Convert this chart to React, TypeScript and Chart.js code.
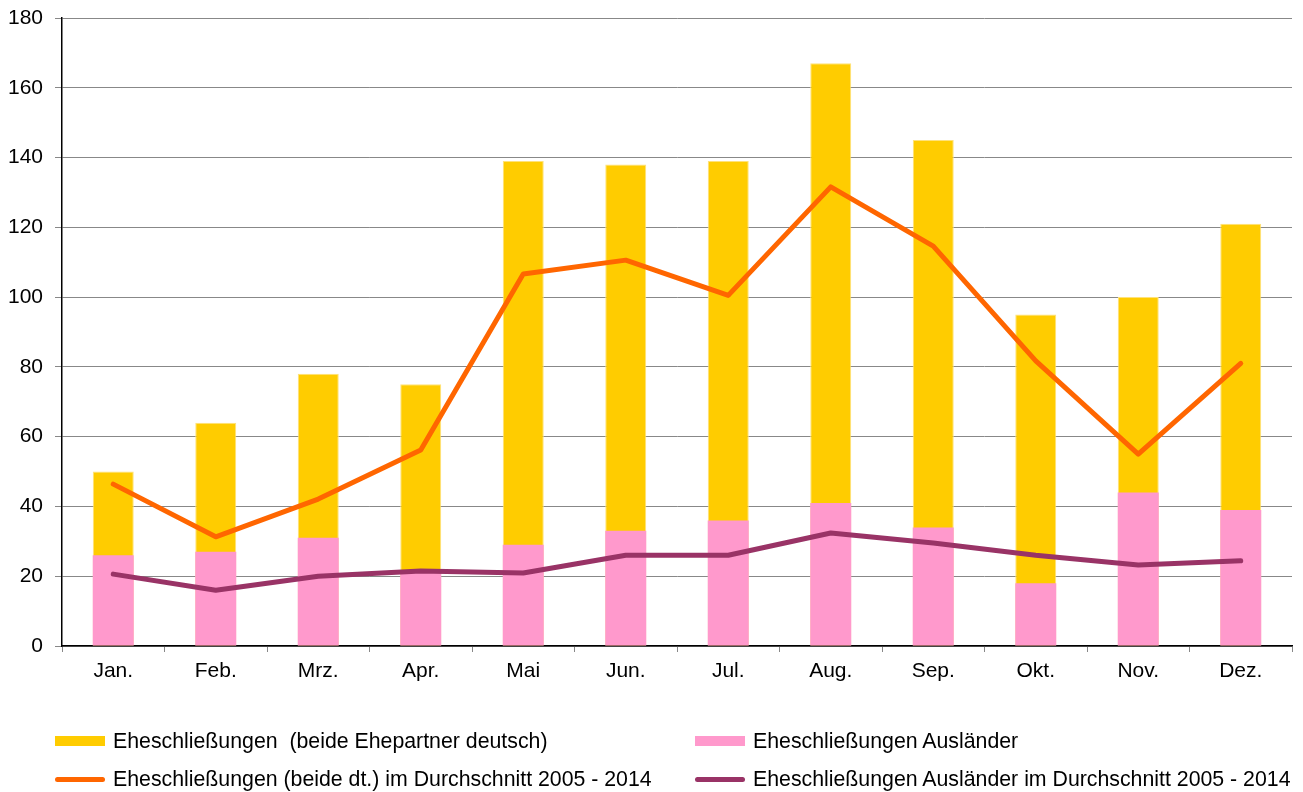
import React, { useEffect, useRef } from "react";
import { Chart, registerables } from "chart.js";

Chart.register(...registerables);

const months = ["Jan.", "Feb.", "Mrz.", "Apr.", "Mai", "Jun.", "Jul.", "Aug.", "Sep.", "Okt.", "Nov.", "Dez."];
const deutsch = [50, 64, 78, 75, 139, 138, 139, 167, 145, 95, 100, 121];
const auslaender = [26, 27, 31, 21, 29, 33, 36, 41, 34, 18, 44, 39];
const avgDeutsch = [46.4, 31.3, 42.1, 56.2, 106.6, 110.6, 100.5, 131.6, 114.6, 81.7, 55, 81];
const avgAuslaender = [20.6, 16, 20, 21.5, 20.9, 26, 26, 32.4, 29.5, 26, 23.2, 24.4];
const yMin = 0;
const yMax = 180;
const yStep = 20;

const labelDeutsch = "Eheschließungen  (beide Ehepartner deutsch)";
const labelAusl = "Eheschließungen Ausländer";
const labelAvgDeutsch = "Eheschließungen (beide dt.) im Durchschnitt 2005 - 2014";
const labelAvgAusl = "Eheschließungen Ausländer im Durchschnitt 2005 - 2014";

const FONT = "'Liberation Sans', Arial, sans-serif";

function LegendItem(props: { left: number; top: number; color: string; kind: "bar" | "line"; text: string }) {
  const { left, top, color, kind, text } = props;
  return (
    <div
      style={{
        position: "absolute",
        left,
        top: top - 12,
        height: 24,
        display: "flex",
        alignItems: "center",
        fontFamily: FONT,
        fontSize: 21.3,
        color: "#000",
        whiteSpace: "pre",
      }}
    >
      <div
        style={{
          width: 50,
          height: kind === "bar" ? 10 : 5,
          borderRadius: kind === "bar" ? 0 : 3,
          background: color,
          marginRight: 8,
        }}
      />
      <span>{text}</span>
    </div>
  );
}

export default function App() {
  const ref = useRef<HTMLCanvasElement>(null);

  useEffect(() => {
    const chart = new Chart(ref.current!, {
      type: "bar",
      data: {
        labels: months,
        datasets: [
          {
            type: "bar",
            label: labelDeutsch,
            data: deutsch,
            backgroundColor: "#FFCC00",
            borderColor: "#FFE27A",
            borderWidth: 1,
            barPercentage: 0.4,
            categoryPercentage: 1,
            order: 3,
          },
          {
            type: "bar",
            label: labelAusl,
            data: auslaender,
            backgroundColor: "#FF99CC",
            borderWidth: 0,
            barPercentage: 0.4,
            categoryPercentage: 1,
            order: 2,
          },
          {
            type: "line",
            label: labelAvgDeutsch,
            data: avgDeutsch,
            borderColor: "#FF6600",
            backgroundColor: "#FF6600",
            borderWidth: 5,
            pointRadius: 0,
            tension: 0,
            borderCapStyle: "round",
            borderJoinStyle: "round",
            order: 1,
          },
          {
            type: "line",
            label: labelAvgAusl,
            data: avgAuslaender,
            borderColor: "#993366",
            backgroundColor: "#993366",
            borderWidth: 5,
            pointRadius: 0,
            tension: 0,
            borderCapStyle: "round",
            borderJoinStyle: "round",
            order: 0,
          },
        ] as any,
      },
      options: {
        responsive: false,
        animation: false,
        layout: { padding: { left: 0, right: 11, top: 18, bottom: 102 } },
        plugins: {
          legend: { display: false },
          tooltip: { enabled: false },
        },
        scales: {
          x: {
            stacked: true,
            offset: true,
            border: { display: true, color: "#000", width: 1.5 },
            grid: {
              display: true,
              offset: true,
              drawOnChartArea: false,
              drawTicks: true,
              tickLength: 6,
              color: "#888",
            },
            ticks: {
              color: "#000",
              font: { family: FONT, size: 21 },
              padding: 7,
              maxRotation: 0,
            },
            afterFit: (scale: any) => {
              scale.height = 44;
              scale.paddingLeft = 0;
              scale.paddingRight = 0;
            },
          },
          y: {
            stacked: false,
            min: yMin,
            max: yMax,
            border: { display: true, color: "#000", width: 1.5 },
            grid: {
              color: "#888",
              lineWidth: 1,
              tickLength: 7,
            },
            ticks: {
              stepSize: yStep,
              color: "#000",
              font: { family: FONT, size: 21 },
              padding: 12,
            },
            afterFit: (scale: any) => {
              scale.width = 62;
              scale.paddingTop = 0;
              scale.paddingBottom = 0;
            },
          },
        },
      },
    });
    return () => chart.destroy();
  }, []);

  return (
    <div style={{ position: "fixed", left: 0, top: 0, width: 1303, height: 792, background: "#fff" }}>
      <canvas ref={ref} width={1303} height={792} style={{ position: "absolute", left: 0, top: 0 }} />
      <LegendItem left={55} top={741} color="#FFCC00" kind="bar" text={labelDeutsch} />
      <LegendItem left={695} top={741} color="#FF99CC" kind="bar" text={labelAusl} />
      <LegendItem left={55} top={779} color="#FF6600" kind="line" text={labelAvgDeutsch} />
      <LegendItem left={695} top={779} color="#993366" kind="line" text={labelAvgAusl} />
    </div>
  );
}
